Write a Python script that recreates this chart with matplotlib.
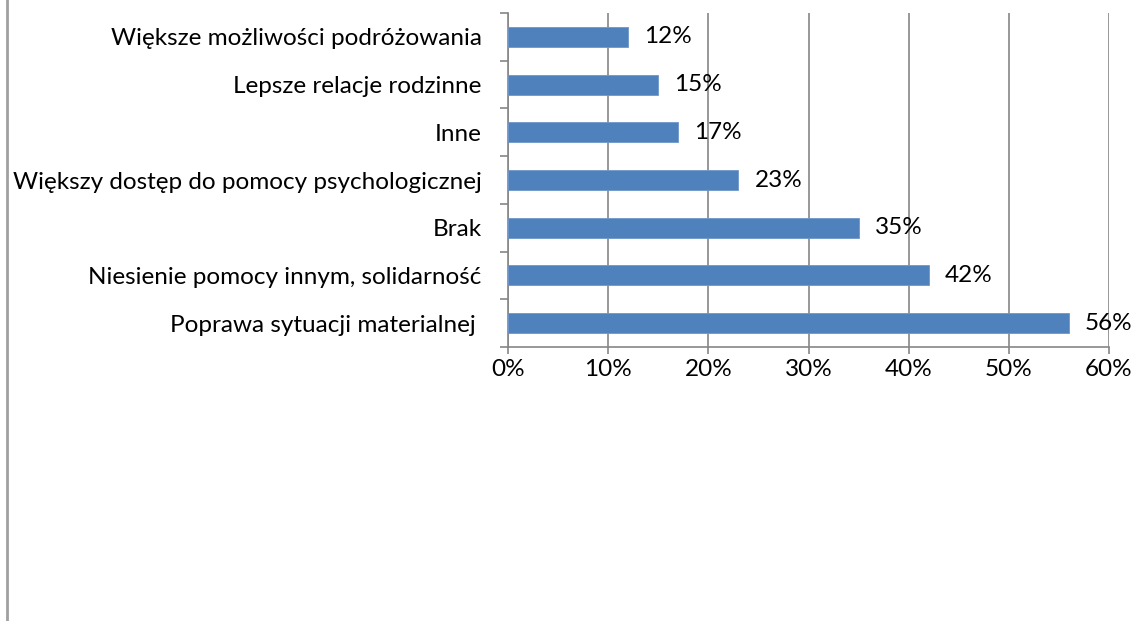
import matplotlib
matplotlib.use("Agg")
import matplotlib.pyplot as plt
from matplotlib.lines import Line2D
from matplotlib.ticker import FixedLocator

categories = [
    "Poprawa sytuacji materialnej ",
    "Niesienie pomocy innym, solidarność",
    "Brak",
    "Większy dostęp do pomocy psychologicznej",
    "Inne",
    "Lepsze relacje rodzinne",
    "Większe możliwości podróżowania",
]
values = [56, 42, 35, 23, 17, 15, 12]
xticks = [0, 10, 20, 30, 40, 50, 60]
xticklabels = ["0%", "10%", "20%", "30%", "40%", "50%", "60%"]

plt.rcParams['font.family'] = ['Lato', 'DejaVu Sans']
FS = 17.5

fig = plt.figure(figsize=(11.36, 6.21), dpi=100)
ax = fig.add_axes([508/1136, 1-347/621, (1109-508)/1136, (347-13)/621])

ypos = list(range(len(categories)))
ax.barh(ypos, values, height=0.42, color="#4F81BD", edgecolor="#6E97CB", linewidth=0.6, zorder=3)
for y, v in zip(ypos, values):
    ax.annotate(f"{v}%", (v, y), xytext=(16, 0), textcoords="offset pixels",
                va="center", ha="left", fontsize=FS, color="black", zorder=4)

ax.set_xlim(0, 60)
ax.set_ylim(-0.5, len(categories) - 0.5)
ax.set_xticks(xticks)
ax.set_xticklabels(xticklabels, fontsize=FS)
ax.set_yticks(ypos)
ax.set_yticklabels(categories, fontsize=FS)
ax.yaxis.set_minor_locator(FixedLocator([i - 0.5 for i in range(len(categories) + 1)]))
ax.tick_params(axis="y", which="major", length=0, pad=19)
ax.tick_params(axis="y", which="minor", length=5.8, color="#868686", width=1.2)
ax.tick_params(axis="x", length=5, color="#868686", width=1.2, pad=4)

ax.grid(axis="x", color="#868686", linewidth=1.2, zorder=0)
for s in ["top", "right"]:
    ax.spines[s].set_visible(False)
for s in ["left", "bottom"]:
    ax.spines[s].set_color("#868686")
    ax.spines[s].set_linewidth(1.2)

fig.add_artist(Line2D([6.5/1136, 6.5/1136], [0, 1], transform=fig.transFigure, color="#A0A0A0", linewidth=2))

fig.savefig("out.png", dpi=100)
